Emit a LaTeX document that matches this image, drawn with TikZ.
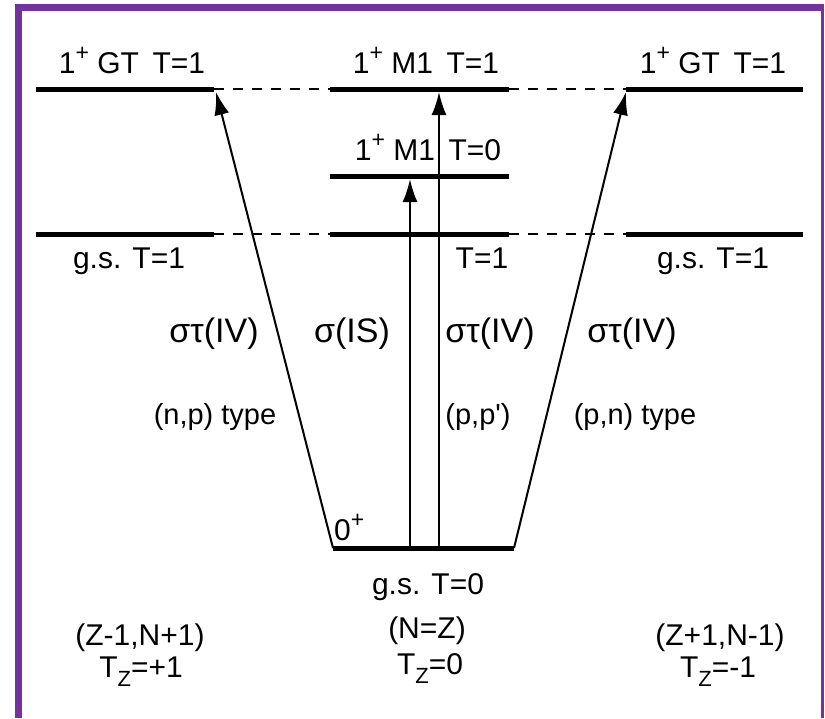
\documentclass[tikz,border=0pt]{standalone}
\usepackage{fontspec}
\setmainfont{Liberation Sans}
\usetikzlibrary{arrows.meta}
\definecolor{frame}{RGB}{115,50,160}
\newcommand{\mysup}[1]{\raisebox{0.42em}{\fontsize{23}{23}\selectfont #1}}
\newcommand{\mysub}[1]{\raisebox{-0.32em}{\fontsize{22}{22}\selectfont #1}}
\begin{document}
\begin{tikzpicture}[x=1pt,y=-1pt,
  level/.style={line width=5pt},
  tie/.style={line width=1.3pt,dash pattern=on 10pt off 9pt},
  trans/.style={line width=2pt,-{Latex[length=23pt,width=15pt]}},
  lab/.style={anchor=base,inner sep=0pt,font=\fontsize{30}{34}\selectfont},
  big/.style={anchor=base,inner sep=0pt,font=\fontsize{34}{38}\selectfont},
  small/.style={anchor=base,inner sep=0pt,font=\fontsize{29}{33}\selectfont}]
\useasboundingbox (0,0) rectangle (825,718);
% frame
\fill[frame] (15,4) rectangle (823,11);
\fill[frame] (15,4) rectangle (22,718);
\fill[frame] (821,4) rectangle (824,718);
% level coordinates
\coordinate (LTa) at (36,89);  \coordinate (LTb) at (214,89);
\coordinate (MTa) at (330,89); \coordinate (MTb) at (509,89);
\coordinate (RTa) at (626,89); \coordinate (RTb) at (803,89);
\coordinate (M0a) at (330,176); \coordinate (M0b) at (509,176);
\coordinate (LGa) at (36,234);  \coordinate (LGb) at (214,234);
\coordinate (MGa) at (330,234); \coordinate (MGb) at (509,234);
\coordinate (RGa) at (626,234); \coordinate (RGb) at (803,234);
\coordinate (GSa) at (333,548); \coordinate (GSb) at (514,548);
% levels
\draw[level] (LTa) -- (LTb);
\draw[level] (MTa) -- (MTb);
\draw[level] (RTa) -- (RTb);
\draw[level] (M0a) -- (M0b);
\draw[level] (LGa) -- (LGb);
\draw[level] (MGa) -- (MGb);
\draw[level] (RGa) -- (RGb);
\draw[level] (GSa) -- (GSb);
% dashed ties
\draw[tie] (LTb) -- (MTa);
\draw[tie] (MTb) -- (RTa);
\draw[tie] (LGb) -- (MGa);
\draw[tie] (MGb) -- (RGa);
% transitions
\coordinate (tipL) at (216,92);
\coordinate (tipR) at (626,92);
\coordinate (srcA) at (410,548); \coordinate (tipA) at (410,179);
\coordinate (srcB) at (439,548); \coordinate (tipB) at (439,92);
\draw[trans] (GSa) -- (tipL);
\draw[trans] (GSb) -- (tipR);
\draw[trans] (srcA) -- (tipA);
\draw[trans] (srcB) -- (tipB);
% level labels
\node[lab] (l1) at (132,73) {1\mysup{+} GT\hspace{0.45em}T=1};
\node[lab] (l2) at (426,73) {1\mysup{+} M1\hspace{0.45em}T=1};
\node[lab] (l3) at (713,73) {1\mysup{+} GT\hspace{0.45em}T=1};
\node[lab] (l4) at (428,160) {1\mysup{+} M1\hspace{0.45em}T=0};
\node[lab] (l5) at (129,268) {g.s. T=1};
\node[lab] (l6) at (482,268) {T=1};
\node[lab] (l7) at (713,268) {g.s. T=1};
\node[lab,anchor=base west] (l8) at (334,540) {0\mysup{+}};
\node[lab] (l9) at (428,594) {g.s. T=0};
% operator labels
\node[big] (o1) at (214,342) {στ(IV)};
\node[big] (o2) at (352,342) {σ(IS)};
\node[big] (o3) at (490,342) {στ(IV)};
\node[big] (o4) at (632,342) {στ(IV)};
% reaction labels
\node[small] (r1) at (215,424) {(n,p) type};
\node[small] (r2) at (478,424) {(p,p\textquotesingle)};
\node[small] (r3) at (635,424) {(p,n) type};
% nuclei
\node[lab] (n1) at (140,645) {(Z-1,N+1)};
\node[lab] (n2) at (141,677) {T\mysub{Z}=+1};
\node[lab] (n3) at (427,638) {(N=Z)};
\node[lab] (n4) at (430,674) {T\mysub{Z}=0};
\node[lab] (n5) at (720,645) {(Z+1,N-1)};
\node[lab] (n6) at (718,677) {T\mysub{Z}=-1};
\end{tikzpicture}
\end{document}
